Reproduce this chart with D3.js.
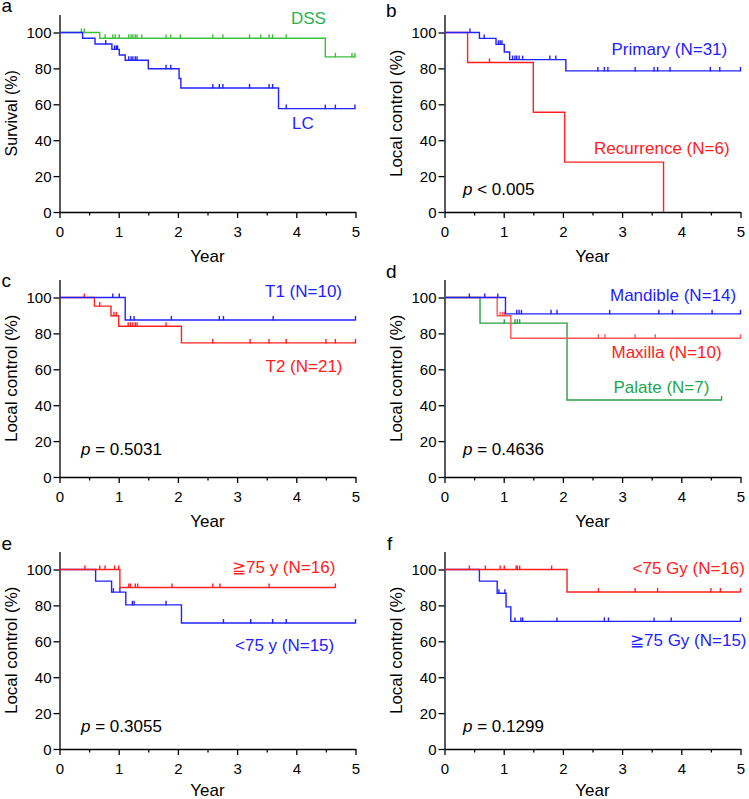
<!DOCTYPE html>
<html>
<head>
<meta charset="utf-8">
<script src="https://cdn.jsdelivr.net/npm/d3@7/dist/d3.min.js"></script>
<style>
  html, body { margin: 0; padding: 0; background: #fff; }
  svg { display: block; font-family: "Liberation Sans", Arial, sans-serif; }
</style>
</head>
<body>
<div id="chart"></div>
<script>
// time axis ticks / survival ticks
var yearTicks = [0, 1, 2, 3, 4, 5];
var yearMinor = [0.5, 1.5, 2.5, 3.5, 4.5];
var pctTicks = [0, 20, 40, 60, 80, 100];

// steps: [time, survival after the step]; censors: times of the tick marks
// a
var aDssSteps = [[0, 100], [0.68, 96.8], [4.49, 86.4]];
var aDssCens = [0.37, 0.42, 0.77, 0.90, 0.94, 1.01, 1.17, 1.21, 1.24, 1.28, 1.31, 1.39, 1.80, 1.88, 2.04, 2.59, 2.76, 3.21, 3.40, 3.54, 3.60, 3.83, 4.66, 4.94, 4.99];
var aLcSteps = [[0, 100], [0.39, 96.8], [0.60, 93.6], [0.885, 90.6], [1.01, 87.5], [1.11, 84.5], [1.50, 79.8], [2.02, 74.4], [2.05, 69.1], [3.70, 57.6]];
var aLcCens = [0.78, 0.93, 0.96, 0.98, 1.17, 1.21, 1.24, 1.28, 1.31, 1.80, 1.88, 2.59, 2.70, 2.76, 3.21, 3.54, 3.60, 3.83, 4.49, 4.66, 4.99];
// b
var bPrimSteps = [[0, 100], [0.59, 96.7], [0.87, 93.4], [1.01, 89.1], [1.10, 84.9], [2.05, 78.6]];
var bPrimCens = [0.43, 0.67, 0.91, 0.94, 0.97, 1.15, 1.19, 1.22, 1.26, 1.32, 1.78, 1.88, 2.59, 2.70, 2.76, 3.22, 3.54, 3.60, 3.81, 4.49, 4.65, 5.0];
var bRecSteps = [[0, 100], [0.39, 83.3], [1.50, 55.6], [2.03, 27.8], [3.70, 0]];
var bRecCens = [0.76];
// c
var cT1Steps = [[0, 100], [1.11, 87.5]];
var cT1Cens = [0.90, 1.01, 1.20, 1.26, 1.89, 2.70, 2.77, 3.61, 5.0];
var cT2Steps = [[0, 100], [0.59, 95.2], [0.87, 89.8], [1.00, 84.0], [2.06, 74.7]];
var cT2Cens = [0.42, 0.68, 0.92, 0.96, 1.16, 1.20, 1.24, 1.28, 1.31, 1.80, 2.59, 3.22, 3.54, 3.83, 4.50, 4.66, 5.0];
// d
var dManSteps = [[0, 100], [1.03, 90.9]];
var dManCens = [0.42, 0.68, 0.90, 1.22, 1.26, 1.30, 1.80, 1.90, 2.79, 3.62, 3.85, 4.52, 5.0];
var dMaxSteps = [[0, 100], [0.89, 89.8], [1.12, 77.3]];
var dMaxCens = [0.94, 0.98, 1.01, 2.60, 2.71, 3.22, 3.56, 5.0];
var dPalSteps = [[0, 100], [0.60, 85.7], [2.07, 42.9]];
var dPalCens = [1.01, 1.19, 1.23, 1.27, 4.68];
// e
var eOldSteps = [[0, 100], [1.02, 90.0]];
var eOldCens = [0.43, 0.68, 0.77, 0.93, 1.00, 1.17, 1.20, 1.28, 1.32, 1.90, 2.59, 2.71, 3.54, 4.66];
var eYoungSteps = [[0, 100], [0.61, 93.5], [0.88, 87.4], [1.12, 80.3], [2.06, 70.2]];
var eYoungCens = [0.91, 1.02, 1.23, 1.26, 1.80, 2.77, 3.23, 3.60, 3.83, 5.0];
// f
var fLowSteps = [[0, 100], [2.07, 87.5]];
var fLowCens = [0.42, 0.69, 0.94, 1.01, 1.21, 1.23, 1.27, 1.81, 2.60, 3.22, 3.60, 4.50, 4.66, 5.0];
var fHighSteps = [[0, 100], [0.59, 93.5], [0.89, 86.8], [1.04, 79.2], [1.12, 71.1]];
var fHighCens = [0.92, 1.02, 1.19, 1.29, 1.32, 1.90, 2.70, 2.77, 3.54, 3.83, 5.0];

var BLUE = '#2222ff';
var RED = '#ff2020';

var panels = [
  { letter: 'a', lx: 1.5, ly: 12, col: 0, row: 0, ytitle: 'Survival (%)', ytitleSize: 16, pval: null,
    curves: [
      { steps: aDssSteps, cens: aDssCens, end: 5, color: '#3cc03c' },
      { steps: aLcSteps, cens: aLcCens, end: 5, color: BLUE }
    ],
    labels: [
      { text: 'DSS', x: 291, y: 24, color: '#26b450' },
      { text: 'LC', x: 292, y: 129, color: BLUE }
    ] },
  { letter: 'b', lx: 386, ly: 16.5, col: 1, row: 0, ytitle: 'Local control (%)', ytitleSize: 17, pval: ['<', '0.005'],
    curves: [
      { steps: bRecSteps, cens: bRecCens, end: 3.70, color: RED },
      { steps: bPrimSteps, cens: bPrimCens, end: 5, color: BLUE }
    ],
    labels: [
      { text: 'Primary (N=31)', x: 611.5, y: 55, color: BLUE },
      { text: 'Recurrence (N=6)', x: 594, y: 154, color: RED }
    ] },
  { letter: 'c', lx: 1.5, ly: 286.5, col: 0, row: 1, ytitle: 'Local control (%)', ytitleSize: 17, pval: ['=', '0.5031'],
    curves: [
      { steps: cT2Steps, cens: cT2Cens, end: 5, color: RED },
      { steps: cT1Steps, cens: cT1Cens, end: 5, color: BLUE }
    ],
    labels: [
      { text: 'T1 (N=10)', x: 265, y: 296.5, color: BLUE },
      { text: 'T2 (N=21)', x: 265.5, y: 372, color: RED }
    ] },
  { letter: 'd', lx: 386, ly: 278, col: 1, row: 1, ytitle: 'Local control (%)', ytitleSize: 17, pval: ['=', '0.4636'],
    curves: [
      { steps: dPalSteps, cens: dPalCens, end: 4.68, color: '#2a9e44' },
      { steps: dMaxSteps, cens: dMaxCens, end: 5, color: '#ff5555' },
      { steps: dManSteps, cens: dManCens, end: 5, color: BLUE }
    ],
    labels: [
      { text: 'Mandible (N=14)', x: 610, y: 301, color: BLUE },
      { text: 'Maxilla (N=10)', x: 611.5, y: 358, color: RED },
      { text: 'Palate (N=7)', x: 613.5, y: 392.5, color: '#22a64e' }
    ] },
  { letter: 'e', lx: 1.5, ly: 550, col: 0, row: 2, ytitle: 'Local control (%)', ytitleSize: 17, pval: ['=', '0.3055'],
    curves: [
      { steps: eYoungSteps, cens: eYoungCens, end: 5, color: BLUE },
      { steps: eOldSteps, cens: eOldCens, end: 4.66, color: RED }
    ],
    labels: [
      { text: '≧75 y (N=16)', x: 232, y: 572.5, color: RED },
      { text: '<75 y (N=15)', x: 235, y: 651, color: BLUE }
    ] },
  { letter: 'f', lx: 387, ly: 550, col: 1, row: 2, ytitle: 'Local control (%)', ytitleSize: 17, pval: ['=', '0.1299'],
    curves: [
      { steps: fHighSteps, cens: fHighCens, end: 5, color: BLUE },
      { steps: fLowSteps, cens: fLowCens, end: 5, color: RED }
    ],
    labels: [
      { text: '<75 Gy (N=16)', x: 632.5, y: 574, color: RED },
      { text: '≧75 Gy (N=15)', x: 630, y: 646, color: BLUE }
    ] }
];

var colLeft = [59.5, 444.5];
var rowBase = [212, 477, 749];
var yearGap = [50, 50, 47];
var plotW = 296;
var per100 = 179.5;

var svg = d3.select('#chart').append('svg')
  .attr('width', 749).attr('height', 799);

function valueAt(steps, t) {
  var v = steps[0][1];
  steps.forEach(function (s) { if (s[0] <= t) v = s[1]; });
  return v;
}

panels.forEach(function (p) {
  var left = colLeft[p.col];
  var base = rowBase[p.row];
  var x = d3.scaleLinear().domain([0, 5]).range([left, left + plotW]);
  var y = d3.scaleLinear().domain([0, 110]).range([base, base - per100 * 1.1]);
  var g = svg.append('g');

  // panel letter
  g.append('text').attr('x', p.lx).attr('y', p.ly).attr('font-size', 19).text(p.letter);

  // axes
  var xAxis = g.append('g').attr('transform', 'translate(0,' + base + ')')
    .call(d3.axisBottom(x).tickValues(yearTicks).tickFormat(d3.format('d'))
      .tickSize(6).tickSizeOuter(0).tickPadding(4));
  g.append('g').attr('transform', 'translate(0,' + base + ')')
    .call(d3.axisBottom(x).tickValues(yearMinor).tickSize(3.5).tickSizeOuter(0).tickFormat(''))
    .select('.domain').remove();
  var yAxis = g.append('g').attr('transform', 'translate(' + left + ',0)')
    .call(d3.axisLeft(y).tickValues(pctTicks).tickSize(6).tickSizeOuter(0).tickPadding(2));
  g.selectAll('.domain, .tick line').attr('stroke', '#000').attr('stroke-width', 1.3);
  g.selectAll('.tick text').attr('font-size', 15).attr('fill', '#000')
    .attr('font-family', '"Liberation Sans", Arial, sans-serif');
  xAxis.selectAll('.tick text').attr('dy', '1em');
  yAxis.selectAll('.tick text').attr('dy', '0.36em');

  // axis titles
  g.append('text').attr('x', left + plotW / 2).attr('y', base + yearGap[p.row])
    .attr('text-anchor', 'middle').attr('font-size', 17).text('Year');
  var ty = (y(0) + y(110)) / 2;
  var tx = left - 42.5;
  g.append('text').attr('transform', 'translate(' + tx + ',' + ty + ') rotate(-90)')
    .attr('text-anchor', 'middle').attr('font-size', p.ytitleSize).text(p.ytitle);

  // curves
  var line = d3.line().x(function (d) { return x(d[0]); }).y(function (d) { return y(d[1]); })
    .curve(d3.curveStepAfter);
  p.curves.forEach(function (c) {
    var pts = c.steps.concat([[c.end, c.steps[c.steps.length - 1][1]]]);
    g.append('path').attr('d', line(pts)).attr('fill', 'none')
      .attr('stroke', c.color).attr('stroke-width', 1.4);
    g.selectAll(null).data(c.cens).enter().append('line')
      .attr('x1', function (t) { return x(t); })
      .attr('x2', function (t) { return x(t); })
      .attr('y1', function (t) { return y(valueAt(c.steps, t)) + 0.5; })
      .attr('y2', function (t) { return y(valueAt(c.steps, t)) - 4; })
      .attr('stroke', c.color).attr('stroke-width', 1.4);
  });

  // group labels
  p.labels.forEach(function (l) {
    g.append('text').attr('x', l.x).attr('y', l.y).attr('font-size', 17)
      .attr('fill', l.color).text(l.text);
  });

  // p value
  if (p.pval) {
    var pt = g.append('text').attr('x', p.col === 0 ? 81 : 463)
      .attr('y', [195, 454.5, 732][p.row]).attr('font-size', 17);
    pt.append('tspan').attr('font-style', 'italic').text('p');
    pt.append('tspan').text(' ' + p.pval[0] + ' ' + p.pval[1]);
  }
});
</script>
</body>
</html>
